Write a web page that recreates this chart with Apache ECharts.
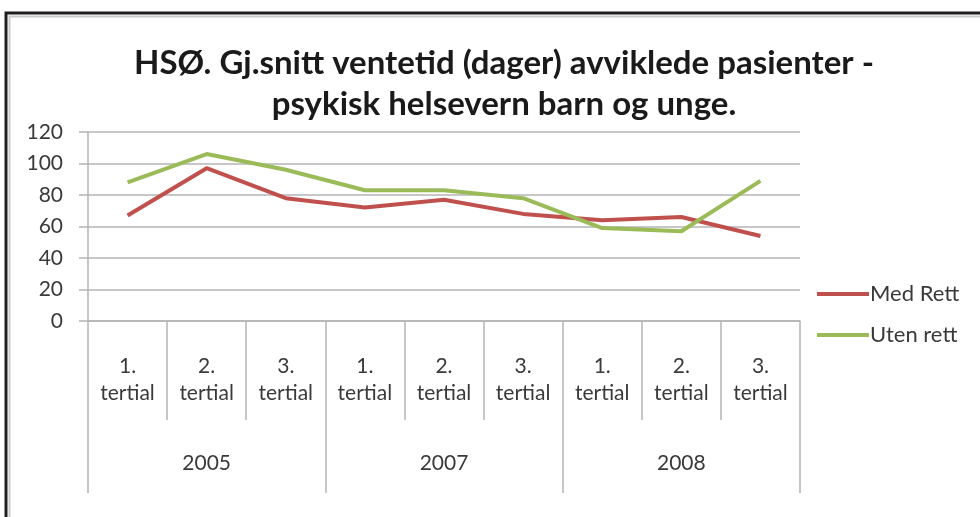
<!DOCTYPE html>
<html>
<head>
<meta charset="utf-8">
<script src="https://cdn.jsdelivr.net/npm/echarts@6/dist/echarts.min.js"></script>
<style>
  html, body { margin: 0; padding: 0; background: #fff; }
  #chart { width: 980px; height: 517px; }
</style>
</head>
<body>
<div id="chart"></div>
<script>
// kategorier (tertialer) og år
const tertials = ['1.\ntertial', '2.\ntertial', '3.\ntertial', '1.\ntertial', '2.\ntertial', '3.\ntertial', '1.\ntertial', '2.\ntertial', '3.\ntertial']
const years = ['2005', '2007', '2008']
// serier
const medRett = [67, 97, 78, 72, 77, 68, 64, 66, 54]
const utenRett = [88, 106, 96, 83, 83, 78, 59, 57, 89]
const yTicks = { min: 0, max: 120, interval: 20 }

const font = 'Lato, "Open Sans", sans-serif'
const gray = '#b4b4b4'
const textColor = '#3a3a3a'

const myChart = echarts.init(document.getElementById('chart'))
myChart.setOption({
  animation: false,
  color: ['#c0504d', '#9bbb59'],
  title: {
    text: 'HSØ. Gj.snitt ventetid (dager) avviklede pasienter -\npsykisk helsevern barn og unge.',
    left: 499,
    top: 38,
    textAlign: 'center',
    textStyle: {
      fontFamily: font,
      fontSize: 33,
      fontWeight: 'bold',
      color: '#1a1a1a',
      lineHeight: 41
    }
  },
  legend: {
    orient: 'vertical',
    left: 812,
    top: 278,
    itemWidth: 52,
    itemHeight: 4,
    itemGap: 19,
    icon: 'rect',
    textStyle: { fontFamily: font, fontSize: 22, color: textColor, padding: [0, 0, 0, -4] },
    data: ['Med Rett', 'Uten rett']
  },
  grid: { left: 88, right: 180, top: 132, bottom: 196 },
  xAxis: [
    {
      type: 'category',
      data: tertials,
      boundaryGap: true,
      axisLine: { show: true, lineStyle: { color: gray, width: 1.5 } },
      axisTick: { show: true, interval: 0, length: 99, lineStyle: { color: gray, width: 1.5 } },
      axisLabel: {
        fontFamily: font,
        fontSize: 21,
        color: textColor,
        lineHeight: 27,
        margin: 32,
        interval: 0
      }
    },
    {
      type: 'category',
      data: years,
      position: 'bottom',
      boundaryGap: true,
      axisLine: { show: false },
      axisTick: { show: true, interval: 0, length: 172, lineStyle: { color: gray, width: 1.5 } },
      axisLabel: {
        fontFamily: font,
        fontSize: 21,
        color: textColor,
        margin: 132
      }
    }
  ],
  yAxis: {
    type: 'value',
    min: yTicks.min,
    max: yTicks.max,
    interval: yTicks.interval,
    axisLine: { show: true, lineStyle: { color: gray, width: 1.5 } },
    axisTick: { show: true, length: 9, lineStyle: { color: gray, width: 1.5 } },
    splitLine: { show: true, lineStyle: { color: gray, width: 1.5 } },
    axisLabel: { fontFamily: font, fontSize: 21, color: textColor, margin: 25 }
  },
  series: [
    {
      name: 'Med Rett',
      type: 'line',
      data: medRett,
      symbol: 'none',
      lineStyle: { width: 4 }
    },
    {
      name: 'Uten rett',
      type: 'line',
      data: utenRett,
      symbol: 'none',
      lineStyle: { width: 4 }
    }
  ],
  graphic: [
    { type: 'rect', shape: { x: 6, y: 13, width: 990, height: 520 }, style: { fill: null, stroke: '#1e1e1e', lineWidth: 3 }, silent: true },
    { type: 'rect', shape: { x: 9.5, y: 16.5, width: 990, height: 520 }, style: { fill: null, stroke: '#c8cccc', lineWidth: 2 }, silent: true }
  ]
})
window.addEventListener('resize', function() {
  myChart.resize()
})
</script>
</body>
</html>
